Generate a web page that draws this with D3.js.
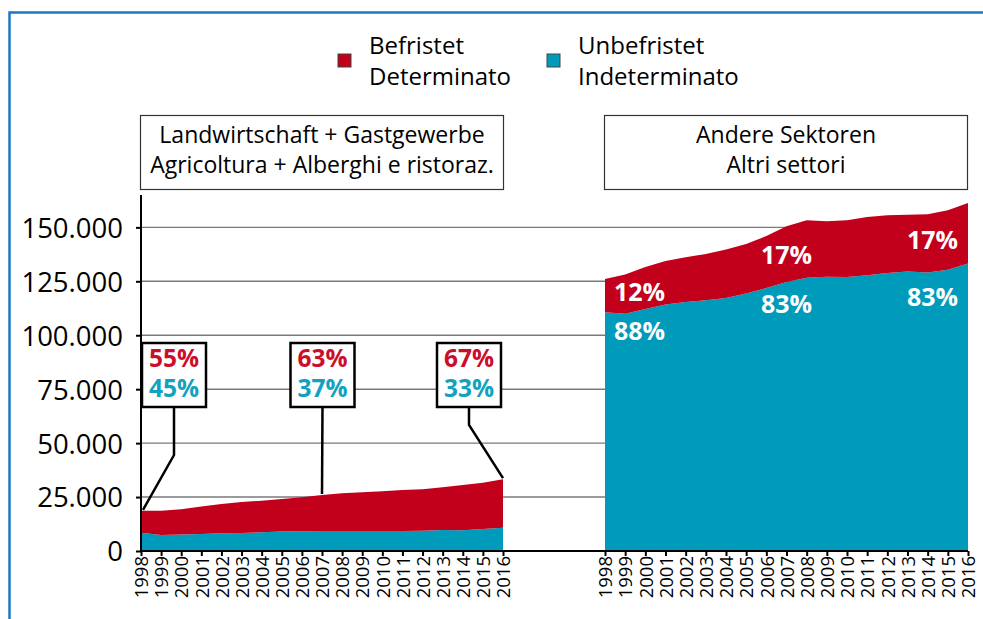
<!DOCTYPE html>
<html>
<head>
<meta charset="utf-8">
<script src="https://cdn.jsdelivr.net/npm/d3@7"></script>
<style>
  body { margin: 0; background: #fff; }
  svg { display: block; }
  svg text { font-family: "Open Sans", Lato, sans-serif; }
  .grid line { stroke: #7a7a7a; stroke-width: 1.4; }
  .axis path, .axis line { stroke: #000; stroke-width: 2; }
  .axis text { fill: #000; font-family: "Open Sans", Lato, sans-serif; }
</style>
</head>
<body>
<svg id="MyGraph" width="983" height="619"></svg>
<script>
// Jahre / anni
var years = d3.range(1998, 2017);

// Landwirtschaft + Gastgewerbe (Anzahl)
var leftUnbefristet = [8500, 7400, 7700, 7900, 8200, 8400, 8700, 9000, 9100, 9300,
                       9300, 9300, 9300, 9300, 9400, 9700, 9600, 10200, 10800];
var leftBefristet   = [10100, 11200, 11600, 12700, 13600, 14300, 14600, 15100, 15800, 16700,
                       17500, 17900, 18400, 19000, 19200, 19900, 21000, 21400, 22500];

// Andere Sektoren (Anzahl)
var rightUnbefristet = [110600, 110000, 112200, 114200, 115400, 116200, 117300, 119300, 121900, 124700,
                        126700, 127100, 127000, 127800, 128900, 129500, 129100, 130400, 133200];
var rightBefristet   = [15500, 18100, 19400, 20200, 20700, 21500, 22400, 23000, 24100, 25800,
                        26600, 25700, 26300, 27000, 26700, 26300, 27000, 27500, 28100];

var yTicks = [0, 25000, 50000, 75000, 100000, 125000, 150000];

var legendLabels = [["Befristet", "Determinato"], ["Unbefristet", "Indeterminato"]];
var panelTitles = [["Landwirtschaft + Gastgewerbe", "Agricoltura + Alberghi e ristoraz."],
                   ["Andere Sektoren", "Altri settori"]];

// Anteile: befristet / unbefristet
var leftShareYears = [1998, 2007, 2016];
var leftShareDet = ["55%", "63%", "67%"];
var leftShareInd = ["45%", "37%", "33%"];
var rightShareYears = [1998, 2007, 2016];
var rightShareDet = ["12%", "17%", "17%"];
var rightShareInd = ["88%", "83%", "83%"];

var RED = "#c2001b", TEAL = "#009bba";
var RED_TXT = "#cc0d2b", TEAL_TXT = "#12a2c1";

var svg = d3.select("#MyGraph");

// Rahmen
svg.append("path")
    .attr("d", "M9.5,619V12.5H983")
    .attr("fill", "none")
    .attr("stroke", "#1d78c6")
    .attr("stroke-width", 2.5);

var y = d3.scaleLinear().domain([0, 165000]).range([551, 195]);
var xL = d3.scalePoint().domain(years).range([141, 503]);
var xR = d3.scalePoint().domain(years).range([605, 968]);

// Gitternetz
svg.append("g").attr("class", "grid")
  .selectAll("line")
  .data(yTicks.slice(1))
  .enter().append("line")
    .attr("x1", 141).attr("x2", 968)
    .attr("y1", function(d){ return y(d); })
    .attr("y2", function(d){ return y(d); });

function stackData(unb, bef){
  var rows = years.map(function(yr, i){ return {year: yr, unb: unb[i], bef: bef[i]}; });
  return d3.stack().keys(["unb", "bef"])(rows);
}

function drawAreas(x, unb, bef){
  var area = d3.area()
      .x(function(d){ return x(d.data.year); })
      .y0(function(d){ return y(d[0]); })
      .y1(function(d){ return y(d[1]); });
  var series = stackData(unb, bef);
  svg.append("g").selectAll("path")
    .data(series)
    .enter().append("path")
      .attr("fill", function(d){ return d.key == "unb" ? TEAL : RED; })
      .attr("d", area);
}

drawAreas(xL, leftUnbefristet, leftBefristet);
drawAreas(xR, rightUnbefristet, rightBefristet);

// Y-Achse
var fmt = function(d){ return d3.format(",")(d).replace(/,/g, "."); };
var yAxis = svg.append("g")
    .attr("class", "axis")
    .attr("transform", "translate(141,0)")
    .call(d3.axisLeft(y).tickValues(yTicks).tickFormat(fmt).tickSizeOuter(0).tickSizeInner(5));
yAxis.attr("font-family", null);
yAxis.select(".domain").attr("d", "M0," + y(165000) + "V" + y(0));
yAxis.selectAll("text")
    .attr("x", -18)
    .attr("dy", "0.36em")
    .style("font-size", "27.5px");

// X-Achsen
function drawXAxis(x){
  var g = svg.append("g")
      .attr("class", "axis")
      .attr("transform", "translate(0,551)")
      .call(d3.axisBottom(x).tickSizeOuter(0).tickSizeInner(5));
  g.attr("font-family", null);
  g.select(".domain").remove();
  g.selectAll("text")
      .attr("transform", "rotate(-90)")
      .attr("x", -5)
      .attr("y", 0)
      .attr("dy", "0.36em")
      .style("text-anchor", "end")
      .style("font-size", "18.5px");
}
drawXAxis(xL);
drawXAxis(xR);

// Grundlinie
svg.append("line")
    .attr("x1", 141).attr("x2", 968)
    .attr("y1", y(0)).attr("y2", y(0))
    .attr("stroke", "#000").attr("stroke-width", 2);

// Legende
var legendX = [338, 547];
legendLabels.forEach(function(lbl, i){
  svg.append("rect")
      .attr("x", legendX[i]).attr("y", 54)
      .attr("width", 13).attr("height", 13)
      .attr("fill", i == 0 ? RED : TEAL)
      .attr("stroke", "#444").attr("stroke-width", 1);
  var t = svg.append("text")
      .style("font-size", "24px");
  t.append("tspan").attr("x", legendX[i] + 31).attr("y", 54).text(lbl[0]);
  t.append("tspan").attr("x", legendX[i] + 31).attr("y", 85).text(lbl[1]);
});

// Panel-Titel
var titleX = [140, 604];
panelTitles.forEach(function(lbl, i){
  svg.append("rect")
      .attr("x", titleX[i] + 0.5).attr("y", 115.5)
      .attr("width", 363).attr("height", 74)
      .attr("fill", "#fff")
      .attr("stroke", "#333").attr("stroke-width", 1.2);
  var t = svg.append("text")
      .attr("text-anchor", "middle")
      .style("font-size", "23px");
  t.append("tspan").attr("x", titleX[i] + 182).attr("y", 143).text(lbl[0]);
  t.append("tspan").attr("x", titleX[i] + 182).attr("y", 173).text(lbl[1]);
});

// Beschriftungen links: Kästchen mit Hinweislinie
var boxCx = [174, 322.5, 469];
var bendY = [455, null, 425];
leftShareYears.forEach(function(yr, i){
  var k = years.indexOf(yr);
  var tx = xL(yr), ty = y(leftUnbefristet[k] + leftBefristet[k]);
  var pts = [[boxCx[i], 407]];
  if (bendY[i] != null) pts.push([boxCx[i], bendY[i]]);
  pts.push([tx + (i == 0 ? 2 : 0), ty - 1]);
  svg.append("path")
      .attr("d", d3.line()(pts))
      .attr("fill", "none")
      .attr("stroke", "#000")
      .attr("stroke-width", 2.5);
  svg.append("rect")
      .attr("x", boxCx[i] - 32).attr("y", 343)
      .attr("width", 64).attr("height", 64)
      .attr("fill", "#fff")
      .attr("stroke", "#000").attr("stroke-width", 2.5);
  svg.append("text")
      .attr("x", boxCx[i]).attr("y", 367)
      .attr("text-anchor", "middle")
      .attr("fill", RED_TXT)
      .style("font-size", "24.5px").style("font-weight", "bold")
      .text(leftShareDet[i]);
  svg.append("text")
      .attr("x", boxCx[i]).attr("y", 397)
      .attr("text-anchor", "middle")
      .attr("fill", TEAL_TXT)
      .style("font-size", "24.5px").style("font-weight", "bold")
      .text(leftShareInd[i]);
});

// Beschriftungen rechts (weiß)
var rLabelX = [614, xR(2007), 958];
var rAnchor = ["start", "middle", "end"];
var rDetY = [301, 264, 249];
var rIndY = [340, 313, 306];
rightShareYears.forEach(function(yr, i){
  svg.append("text")
      .attr("x", rLabelX[i]).attr("y", rDetY[i])
      .attr("text-anchor", rAnchor[i])
      .attr("fill", "#fff")
      .style("font-size", "25px").style("font-weight", "bold")
      .text(rightShareDet[i]);
  svg.append("text")
      .attr("x", rLabelX[i]).attr("y", rIndY[i])
      .attr("text-anchor", rAnchor[i])
      .attr("fill", "#fff")
      .style("font-size", "25px").style("font-weight", "bold")
      .text(rightShareInd[i]);
});
</script>
</body>
</html>
